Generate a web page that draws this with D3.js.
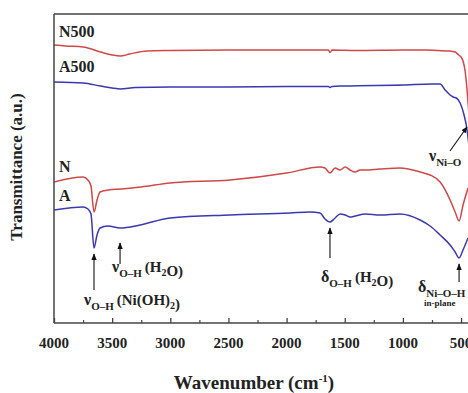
<!DOCTYPE html>
<html>
<head>
<meta charset="utf-8">
<script src="https://cdn.jsdelivr.net/npm/d3@7"></script>
<style>
  body { margin: 0; background: #fff; }
  text { font-family: "Liberation Serif", "DejaVu Serif", serif; font-weight: bold; fill: #222; }
</style>
</head>
<body>
<svg id="chart"></svg>
<script>
var width = 468;
var height = 393;

// spectra: wavenumber (cm-1) and offset transmittance (a.u.)
var n500Wave = [4000, 3900, 3750, 3600, 3500, 3430, 3350, 3200, 3000, 2500, 2000, 1700, 1640, 1627, 1610, 1400, 1000, 800, 700, 600, 551, 520, 500, 483, 465, 450, 430];
var n500Val  = [278, 277, 276, 271, 268, 267, 269, 272, 272.5, 273, 273, 273, 273, 270.5, 273, 272.5, 273, 273, 272.5, 272, 271, 268, 266, 262, 252, 235, 205];

var a500Wave = [4000, 3750, 3600, 3500, 3430, 3300, 3000, 2500, 2000, 1640, 1627, 1610, 1500, 1000, 750, 680, 637, 594, 567, 540, 508, 474, 448, 430];
var a500Val  = [241, 240, 237, 235, 234, 235.5, 236, 236, 236.5, 236.5, 235.5, 236.5, 237, 238, 239, 239, 233, 228, 226, 225, 220, 208, 193, 175];

var nWave = [4000, 3750, 3708, 3682, 3656, 3630, 3604, 3532, 3432, 3250, 3002, 2486, 2000, 1712, 1670, 1627, 1583, 1540, 1497, 1454, 1411, 1368, 1325, 1200, 1024, 852, 766, 680, 594, 551, 517, 483, 440];
var nVal  = [141, 146, 143, 137, 111, 123, 131, 133, 134, 136, 140, 143, 150, 156, 155, 150, 155, 153, 156, 153, 151, 153, 153, 154, 155, 151, 148, 141, 123, 111, 102, 118, 135];

var aWave = [4000, 3750, 3708, 3682, 3656, 3630, 3604, 3536, 3432, 3260, 3002, 2486, 1970, 1798, 1712, 1670, 1627, 1583, 1540, 1497, 1454, 1411, 1325, 1196, 1024, 852, 766, 680, 594, 551, 517, 483, 440];
var aVal  = [113, 116, 114, 109, 75, 88, 95, 97, 95, 98, 105, 108, 110, 111, 110, 104, 101, 105, 109, 108, 106, 107, 109, 108, 109, 103, 97, 88, 78, 71, 65, 73, 85];

var seriesNames = ["N500", "A500", "N", "A"];
var seriesColors = ["#d04848", "#3a38b2", "#d04848", "#3a38b2"];
var majorTicks = [4000, 3500, 3000, 2500, 2000, 1500, 1000, 500];
var minorTicks = [3750, 3250, 2750, 2250, 1750, 1250, 750];

var margin = { left: 54, top: 14, bottom: 323 };

var svg = d3.select("#chart")
    .attr("width", width)
    .attr("height", height);

var xScale = d3.scaleLinear()
    .domain([4000, 400])
    .range([margin.left, margin.left + 3600 * 0.1163]);

var yScale = d3.scaleLinear()
    .domain([0, 309])
    .range([margin.bottom, margin.top]);

svg.append("defs").append("clipPath").attr("id", "clip")
  .append("rect")
    .attr("x", margin.left).attr("y", margin.top)
    .attr("width", width - margin.left).attr("height", margin.bottom - margin.top);

svg.select("defs").append("marker")
    .attr("id", "arrow")
    .attr("viewBox", "0 0 10 10")
    .attr("refX", 9).attr("refY", 5)
    .attr("markerWidth", 6).attr("markerHeight", 6)
    .attr("orient", "auto")
  .append("path")
    .attr("d", "M0,1 L10,5 L0,9 Z")
    .attr("fill", "#111");

var line = d3.line()
    .x(function(d) { return xScale(d[0]); })
    .y(function(d) { return yScale(d[1]); })
    .curve(d3.curveMonotoneX);

var allSeries = [
  d3.zip(n500Wave, n500Val),
  d3.zip(a500Wave, a500Val),
  d3.zip(nWave, nVal),
  d3.zip(aWave, aVal)
];

svg.append("g").attr("clip-path", "url(#clip)")
  .selectAll("path")
  .data(allSeries)
  .enter()
  .append("path")
    .attr("d", line)
    .attr("fill", "none")
    .attr("stroke", function(d, i) { return seriesColors[i]; })
    .attr("stroke-width", 1.5);

// frame
svg.append("line")
    .attr("x1", margin.left).attr("x2", width)
    .attr("y1", margin.top).attr("y2", margin.top)
    .attr("stroke", "#444").attr("stroke-width", 1.5);
svg.append("line")
    .attr("x1", margin.left).attr("x2", margin.left)
    .attr("y1", margin.top).attr("y2", margin.bottom)
    .attr("stroke", "#444").attr("stroke-width", 1.5);

// x axis, ticks pointing inward
var xAxis = svg.append("g")
    .attr("transform", "translate(0," + margin.bottom + ")")
    .call(d3.axisTop(xScale).tickValues(majorTicks).tickSize(5).tickFormat(""));
xAxis.select(".domain").attr("d", "M" + margin.left + ",0H" + width).attr("stroke", "#444").attr("stroke-width", 1.5);
xAxis.selectAll(".tick line").attr("stroke", "#444").attr("stroke-width", 1.3);

var xMinor = svg.append("g")
    .attr("transform", "translate(0," + margin.bottom + ")")
    .call(d3.axisTop(xScale).tickValues(minorTicks).tickSize(3).tickFormat(""));
xMinor.select(".domain").remove();
xMinor.selectAll(".tick line").attr("stroke", "#444").attr("stroke-width", 1.2);

svg.append("g").selectAll("text")
  .data(majorTicks)
  .enter()
  .append("text")
    .attr("x", function(d) { return xScale(d); })
    .attr("y", 348)
    .attr("text-anchor", "middle")
    .attr("font-size", 15)
    .text(function(d) { return d; });

// axis titles
var xt = svg.append("text")
    .attr("x", 254).attr("y", 389)
    .attr("text-anchor", "middle")
    .attr("font-size", 19);
xt.append("tspan").text("Wavenumber (cm");
xt.append("tspan").attr("dy", -7).attr("font-size", 11).text("-1");
xt.append("tspan").attr("dy", 7).text(")");

svg.append("text")
    .attr("transform", "translate(22,167) rotate(-90)")
    .attr("text-anchor", "middle")
    .attr("font-size", 17)
    .text("Transmittance (a.u.)");

// series labels
var labelPos = [[59, 37], [59, 72], [59, 172], [59, 201]];
svg.append("g").selectAll("text")
  .data(seriesNames)
  .enter()
  .append("text")
    .attr("x", function(d, i) { return labelPos[i][0]; })
    .attr("y", function(d, i) { return labelPos[i][1]; })
    .attr("font-size", 16)
    .text(function(d) { return d; });

// band annotations
function arrow(x1, y1, x2, y2) {
  svg.append("line")
      .attr("x1", x1).attr("y1", y1).attr("x2", x2).attr("y2", y2)
      .attr("stroke", "#111").attr("stroke-width", 1.1)
      .attr("marker-end", "url(#arrow)");
}

function bandLabel(x, y, sym, sub, rest) {
  var t = svg.append("text").attr("x", x).attr("y", y).attr("font-size", 16);
  t.append("tspan").text(sym);
  t.append("tspan").attr("dy", 5).attr("font-size", 11).text(sub);
  if (rest) {
    var r = t.append("tspan").attr("dy", -5).attr("dx", 3).attr("font-size", 15);
    rest.forEach(function(p) {
      if (p.sub) {
        r.append("tspan").attr("dy", 4).attr("font-size", 10).text(p.s);
        r.append("tspan").attr("dy", -4).text("");
      } else {
        r.append("tspan").text(p.s);
      }
    });
  }
  return t;
}

arrow(xScale(3656), 290, xScale(3656), 254);
bandLabel(84, 305, "ν", "O–H", [{ s: "(Ni(OH)" }, { s: "2", sub: true }, { s: ")" }]);

arrow(xScale(3432), 264, xScale(3432), 243);
bandLabel(112, 272, "ν", "O–H", [{ s: "(H" }, { s: "2", sub: true }, { s: "O)" }]);

arrow(xScale(1627), 258, xScale(1627), 228);
bandLabel(321, 282, "δ", "O–H", [{ s: "(H" }, { s: "2", sub: true }, { s: "O)" }]);

arrow(xScale(517), 282, xScale(517), 264);
bandLabel(418, 292, "δ", "Ni–O–H", null);
svg.append("text").attr("x", 424).attr("y", 306).attr("font-size", 9).text("in-plane");

arrow(450, 151, 467, 127);
bandLabel(429, 161, "ν", "Ni–O", null);
</script>
</body>
</html>
